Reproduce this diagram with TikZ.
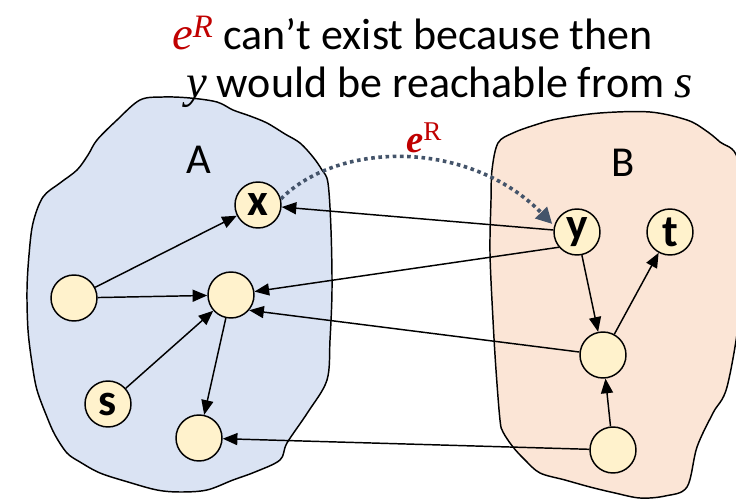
\documentclass[tikz,border=0pt]{standalone}
\usepackage{fontspec}
\setmainfont{Carlito}
\newfontfamily\serifit{Liberation Serif}
\usetikzlibrary{arrows.meta}
\definecolor{myred}{HTML}{C00000}
\definecolor{slate}{HTML}{44546A}
\definecolor{afill}{HTML}{DAE3F3}
\definecolor{bfill}{HTML}{FBE5D6}
\definecolor{nfill}{HTML}{FFF2CC}
\tikzset{
  vtx/.style={circle,draw=black,fill=nfill,line width=1.1pt,minimum size=34.5pt,inner sep=0pt,
     font=\fontsize{34}{34}\selectfont\bfseries},
  blob/.style={draw=black,line width=1.1pt},
  edge/.style={line width=1.1pt,-{Triangle[length=11pt,width=9pt]}},
  dotarrow/.style={draw=slate,line width=2.7pt,dash pattern=on 2.7pt off 2.7pt,
     -{Triangle[length=12pt,width=12pt]},color=slate},
  setlabel/.style={font=\fontsize{32}{32}\selectfont},
}
\begin{document}
\begin{tikzpicture}[x=0.75pt,y=-0.75pt]
\path[use as bounding box] (0,0) rectangle (736,499);
\begin{scope}
\clip (0,0) rectangle (736,499);
% blob A
\draw[blob,fill=afill] plot[smooth cycle,tension=0.55] coordinates {
 (140,100) (163,97) (190,98) (217,102) (233,110) (250,116) (267,123) (285,134) (300,143)
 (313,157) (322,170) (328,183) (331,230) (332,290) (330,340) (327,380) (308,412) (287,443) (280,460)
 (255,472) (233,480) (207,490) (180,492) (157,490) (128,482) (100,473) (80,462) (67,453) (55,435) (47,417)
 (37,390) (32,363) (28,330) (27,290) (29,255) (33,223) (43,197) (60,183) (77,170) (88,155) (97,140) (117,120)};
% blob B
\draw[blob,fill=bfill] plot[smooth cycle,tension=0.55] coordinates {
 (498,143) (513,133) (535,125) (557,119) (600,113) (650,112) (687,120) (705,130) (720,142) (738,160)
 (745,240) (740,313) (727,387) (713,413) (697,447) (687,487) (665,496) (640,498) (615,493) (590,487)
 (565,480) (540,473) (525,460) (513,447) (503,432) (500,420) (496,370) (493,320) (490,253) (491,200) (492,170)};
\end{scope}

% set labels
\node[setlabel] (labA) at (199,160) {A};
\node[setlabel] (labB) at (623,163) {B};

% vertices
\node[vtx] (x) at (258,205) {x};
\node[vtx] (l) at (74,298) {};
\node[vtx] (m) at (231,295) {};
\node[vtx] (s) at (108,404) {s};
\node[vtx] (b) at (199,438) {};
\node[vtx] (y) at (577,232) {y};
\node[vtx] (t) at (670,232) {t};
\node[vtx] (bm) at (603,355) {};
\node[vtx] (bb) at (613,450) {};

% edges
\draw[edge] (l) -- (x);
\draw[edge] (l) -- (m);
\draw[edge] (s) -- (m);
\draw[edge] (m) -- (b);
\draw[edge] (y) -- (x);
\draw[edge] (y.220) -- (m);
\draw[edge] (bm) -- (m.-40);
\draw[edge] (bb) -- (b);
\draw[edge] (y) -- (bm);
\draw[edge] (bm) -- (t);
\draw[edge] (bb) -- (bm);

% reverse edge
\draw[dotarrow,shorten >=2pt] (x.15) .. controls (340,140) and (470,140) .. (y.165);
\node[anchor=base west,font=\fontsize{29}{29}\selectfont\serifit,text=myred,inner sep=0pt] (eR) at (406,153)
  {\textbf{\textit{e}}\textsuperscript{R}};

% title
\node[anchor=base west,inner sep=0pt,font=\fontsize{33}{33}\selectfont] (t1) at (172,50)
  {{\serifit\itshape\color{myred}\fontsize{35}{35}\selectfont e\textsuperscript{R}} can’t exist because then};
\node[anchor=base west,inner sep=0pt,font=\fontsize{33}{33}\selectfont] (t2) at (186,98)
  {{\serifit\itshape\fontsize{35}{35}\selectfont y} would be reachable from {\serifit\itshape\fontsize{35}{35}\selectfont s}};
\end{tikzpicture}
\end{document}
